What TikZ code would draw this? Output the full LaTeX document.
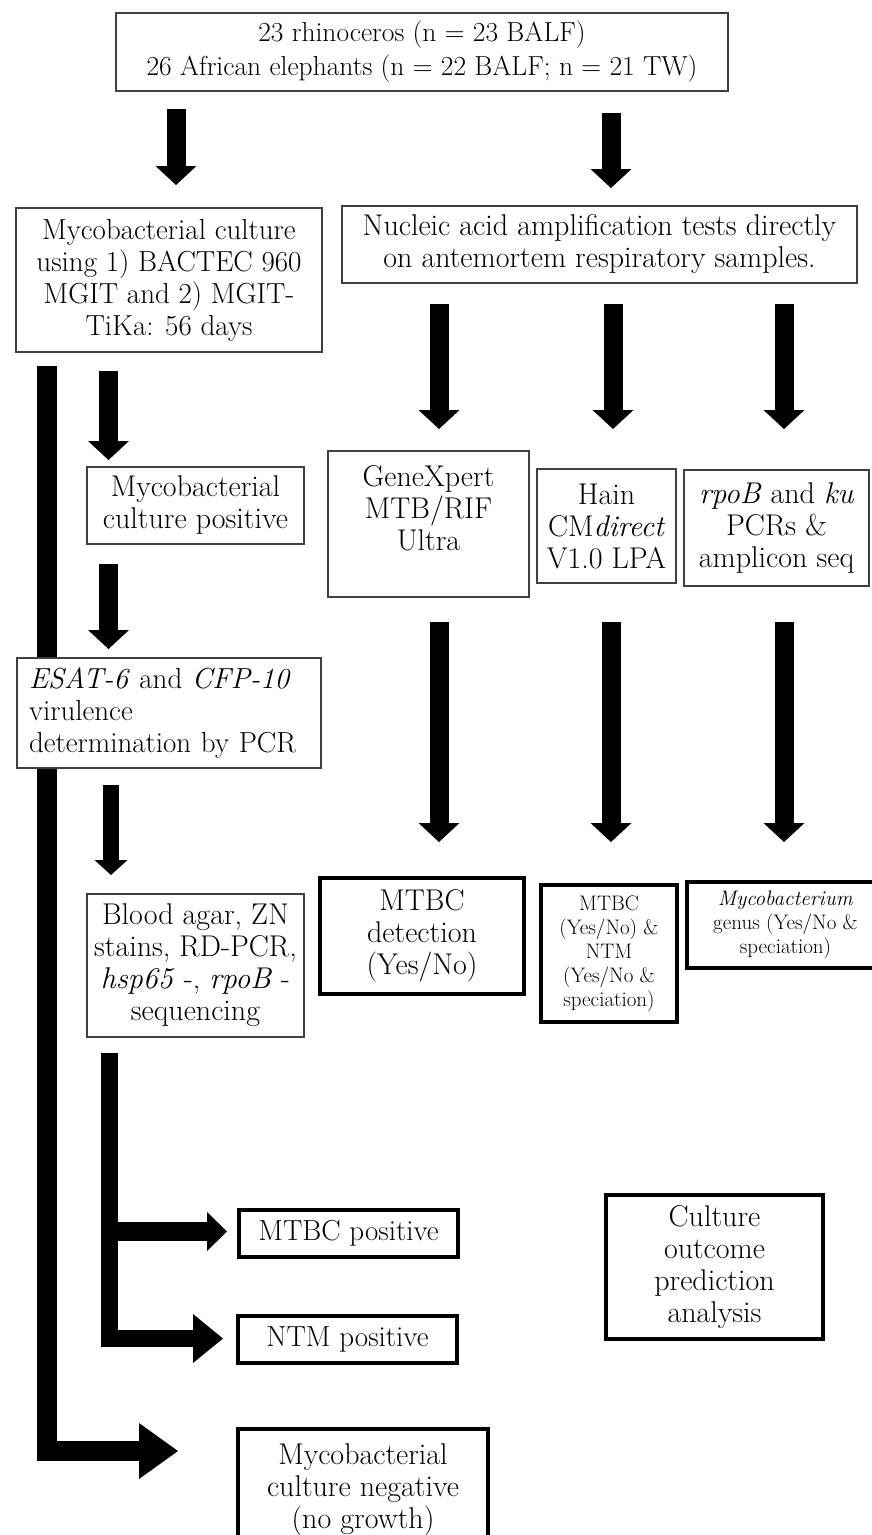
\documentclass[tikz,border=0pt]{standalone}
\usepackage{fontspec}
\usetikzlibrary{arrows.meta}

\tikzset{
  box/.style={draw=black!75, fill=white, line width=1.2pt, inner sep=0pt, align=center,
    font=\fontsize{30}{32}\selectfont},
  thickbox/.style={box, draw=black, line width=3.5pt},
  smalltext/.style={font=\fontsize{21}{24}\selectfont},
  midtext/.style={font=\fontsize{29}{32}\selectfont},
  fat/.style={line width=19pt, line join=miter,
    -{Triangle[length=19pt,width=41pt,line width=0pt]}},
}

\begin{document}
\begin{tikzpicture}[x=1pt, y=-1pt]
  \useasboundingbox (0,0) rectangle (871,1535);

  % arrow ends
  \coordinate (1a) at (176,109);   \coordinate (1b) at (176,185);
  \coordinate (2a) at (611,113);   \coordinate (2b) at (611,188);
  \coordinate (3a) at (439,304);   \coordinate (3b) at (439,429);
  \coordinate (4a) at (613,304);   \coordinate (4b) at (613,429);
  \coordinate (5a) at (784,304);   \coordinate (5b) at (784,429);
  \coordinate (6a) at (108.5,371); \coordinate (6b) at (108.5,460);
  \coordinate (7a) at (108.5,564); \coordinate (7b) at (108.5,649);
  \coordinate (8a) at (439,622);   \coordinate (8b) at (439,842);
  \coordinate (9a) at (611,622);   \coordinate (9b) at (611,842);
  \coordinate (10a) at (784,622);  \coordinate (10b) at (784,842);
  \coordinate (11a) at (111,785);  \coordinate (11b) at (111,875);
  \coordinate (nega) at (47,366);  \coordinate (negb) at (178,1451);
  \coordinate (posa) at (109.5,1053); \coordinate (posb) at (223,1338.5);
  \coordinate (brna) at (109.5,1231.5); \coordinate (brnb) at (227,1231.5);

  \begin{scope}[every edge/.style={draw, fat}]
    \path (1a) edge (1b);
    \path (2a) edge (2b);
    \path (3a) edge (3b);
    \path (4a) edge (4b);
    \path (5a) edge (5b);
    \path (6a) edge (6b);
    \path (7a) edge (7b);
    \path (8a) edge (8b);
    \path (9a) edge (9b);
    \path (10a) edge (10b);
    \path (11a) edge[line width=16pt, -{Triangle[length=15pt,width=33pt,line width=0pt]}] (11b);
  \end{scope}

  \draw[fat, line width=20pt, -{Triangle[length=39pt,width=56pt,line width=0pt]}] (nega) |- (negb);
  \draw[fat, line width=17pt, -{Triangle[length=30pt,width=49pt,line width=0pt]}] (posa) |- (posb);
  \draw[fat, -{Triangle[length=20pt,width=39pt,line width=0pt]}] (brna) -- (brnb);

  % upper boxes
  \begin{scope}[every node/.style={box}]
    \node[minimum width=612pt, minimum height=78pt, font=\fontsize{27.5}{34}\selectfont] (animals) at (422,52)
      {23 rhinoceros (n = 23 BALF)\\26 African elephants (n = 22 BALF; n = 21 TW)};
    \node[minimum width=306pt, minimum height=144pt, midtext] (culture) at (169,280)
      {Mycobacterial culture\\using 1) BACTEC 960\\MGIT and 2) MGIT-\\TiKa: 56 days};
    \node[minimum width=515pt, minimum height=77pt]  (naat)    at (599.5,244.5)
      {Nucleic acid amplification tests directly\\on antemortem respiratory samples.};
    \node[minimum width=217pt, minimum height=77pt]  (cultpos) at (195.5,505.5)
      {Mycobacterial\\culture positive};
    \node[minimum width=201pt, minimum height=146pt] (xpert)   at (428.5,524)
      {GeneXpert\\MTB/RIF\\Ultra\\\mbox{}};
    \node[minimum width=139pt, minimum height=114pt] (hain)    at (606.5,526)
      {Hain\\CM\textit{direct}\\V1.0 LPA};
    \node[minimum width=185pt, minimum height=116pt] (rpob)    at (776.5,528)
      {\textit{rpoB} and \textit{ku}\\PCRs \&\\amplicon seq};
    \node[minimum width=304pt, minimum height=110pt, text width=280pt, align=left, midtext] (esat) at (169,713)
      {\textit{ESAT-6} and \textit{CFP-10}\\virulence\\determination by PCR};
    \node[minimum width=217pt, minimum height=143pt] (blood)   at (195.5,965.5)
      {Blood agar, ZN\\stains, RD-PCR,\\\textit{hsp65} -, \textit{rpoB} -\\sequencing};
  \end{scope}

  % result boxes
  \begin{scope}[every node/.style={thickbox}]
    \node[minimum width=204pt, minimum height=116pt] (mtbcdet) at (422,936)
      {MTBC\\detection\\(Yes/No)};
    \node[minimum width=136pt, minimum height=137pt, smalltext] (hainres) at (609,953.5)
      {MTBC\\(Yes/No) \&\\NTM\\(Yes/No \&\\speciation)};
    \node[minimum width=197pt, minimum height=86pt, smalltext] (genus) at (785.5,925)
      {\textit{Mycobacterium}\\genus (Yes/No \&\\speciation)};
    \node[minimum width=219pt, minimum height=47pt, midtext] (mtbcpos) at (348.5,1233.5) {MTBC positive};
    \node[minimum width=219pt, minimum height=47pt, midtext] (ntmpos)  at (347.5,1339.5) {NTM positive};
    \node[minimum width=217pt, minimum height=144pt] (outcome) at (714.5,1267)
      {Culture\\outcome\\prediction\\analysis};
    \node[minimum width=250pt, minimum height=122pt] (cultneg) at (363,1490)
      {Mycobacterial\\culture negative\\(no growth)};
  \end{scope}

\end{tikzpicture}
\end{document}
